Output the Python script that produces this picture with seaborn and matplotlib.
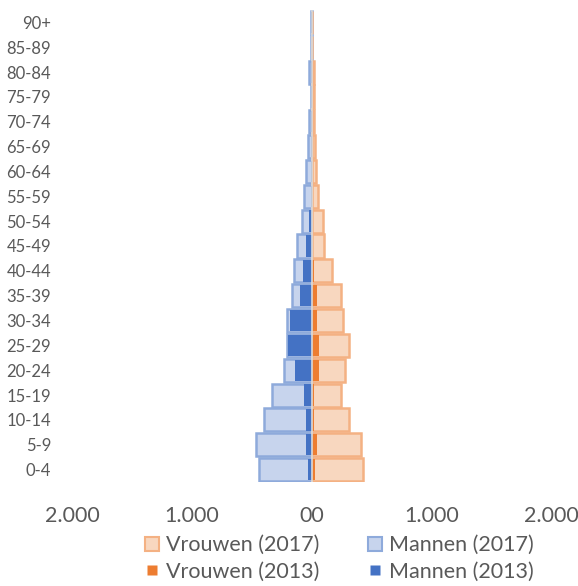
import matplotlib
matplotlib.use('Agg')
import matplotlib.pyplot as plt
from matplotlib.lines import Line2D
import pandas as pd
import seaborn as sns

ages = ['0-4', '5-9', '10-14', '15-19', '20-24', '25-29', '30-34', '35-39', '40-44',
        '45-49', '50-54', '55-59', '60-64', '65-69', '70-74', '75-79', '80-84', '85-89', '90+']
men_2017 = [442, 464, 397, 331, 231, 208, 208, 167, 142, 119, 81, 61, 47, 28, 22, 8, 17, 2, 8]
men_2013 = [33, 50, 44, 61, 136, 200, 178, 94, 69, 50, 17, 5, 3, 2, 2, 1, 1, 0, 1]
women_2017 = [428, 411, 311, 244, 283, 314, 267, 250, 172, 106, 94, 58, 39, 31, 25, 22, 25, 2, 8]
women_2013 = [30, 45, 25, 25, 65, 60, 50, 42, 25, 6, 4, 3, 2, 2, 1, 1, 1, 0, 1]
xticks = [-2000, -1000, 0, 1000, 2000]
xtick_labels = ['2.000', '1.000', '00', '1.000', '2.000']

order = ages[::-1]
df = pd.DataFrame({'leeftijd': ages,
                   'm17': [-v for v in men_2017], 'm13': [-v for v in men_2013],
                   'v17': women_2017, 'v13': women_2013})

sns.set_style('white')
plt.rcParams['font.family'] = ['Lato', 'DejaVu Sans']
txt = '#595959'

fig = plt.figure(figsize=(5.78, 5.86), dpi=100)
ax = fig.add_axes([72 / 578, 1 - 482 / 586, 479 / 578, 472 / 586])

light_b, edge_b, dark_b = '#c7d4ed', '#8eaadb', '#4472c4'
light_o, edge_o, dark_o = '#f8d7bf', '#f4b183', '#ed7d31'

# 2017 bars
sns.barplot(data=df, x='m17', y='leeftijd', order=order, orient='h', width=0.93,
            color=light_b, saturation=1, edgecolor=edge_b, linewidth=1.8, errorbar=None, ax=ax)
sns.barplot(data=df, x='v17', y='leeftijd', order=order, orient='h', width=0.93,
            color=light_o, saturation=1, edgecolor=edge_o, linewidth=1.8, errorbar=None, ax=ax)
# 2013 bars
sns.barplot(data=df, x='m13', y='leeftijd', order=order, orient='h', width=0.86,
            color=dark_b, saturation=1, linewidth=0, errorbar=None, ax=ax)
sns.barplot(data=df, x='v13', y='leeftijd', order=order, orient='h', width=0.86,
            color=dark_o, saturation=1, linewidth=0, errorbar=None, ax=ax)

ax.axvline(0, color='#d9d9d9', lw=1.2, zorder=5)
ax.set_xlim(-2000, 2000)
ax.set_ylim(18.5, -0.5)
ax.set_xticks(xticks)
ax.set_xticklabels(xtick_labels)
ax.set_xlabel('')
ax.set_ylabel('')
for s in ax.spines.values():
    s.set_visible(False)
ax.tick_params(axis='x', length=0, pad=17, labelsize=15.5, colors=txt)
ax.tick_params(axis='y', length=0, pad=15, labelsize=12, colors=txt)

handles = [Line2D([], [], ls='none', marker='s', ms=10, mfc=light_o, mec=edge_o, mew=1.5),
           Line2D([], [], ls='none', marker='s', ms=6.5, mfc=dark_o, mec='none'),
           Line2D([], [], ls='none', marker='s', ms=10, mfc=light_b, mec=edge_b, mew=1.5),
           Line2D([], [], ls='none', marker='s', ms=6.5, mfc=dark_b, mec='none')]
labels = ['Vrouwen (2017)', 'Vrouwen (2013)', 'Mannen (2017)', 'Mannen (2013)']
fig.legend(handles, labels, ncol=2, loc='center', bbox_to_anchor=(339 / 578, 0.047),
           frameon=False, fontsize=15.5, labelcolor=txt, handlelength=0.7,
           handletextpad=0.3, columnspacing=2.2, labelspacing=0.3, borderpad=0)

fig.savefig('out.png', dpi=100)
